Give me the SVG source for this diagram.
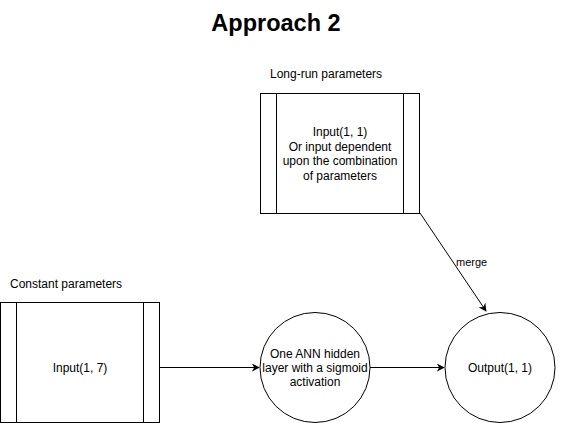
<svg xmlns="http://www.w3.org/2000/svg" width="565" height="423" viewBox="0 0 565 423">
<defs>
<style>
text{font-family:"Liberation Sans",Arial,sans-serif;font-size:12px;fill:#000}
.c{text-anchor:middle}
.box{fill:#fff;stroke:#000;stroke-width:1}
.edge{fill:none;stroke:#000;stroke-width:1}
</style>
<marker id="arr" viewBox="0 0 10 10" refX="9" refY="5" markerWidth="8" markerHeight="8" markerUnits="userSpaceOnUse" orient="auto">
<path d="M0,0 L10,5 L0,10 L3,5 Z" fill="#000"/>
</marker>
</defs>
<rect width="565" height="423" fill="#fff"/>
<text x="276" y="31" class="c" style="font-size:23.5px;font-weight:bold">Approach 2</text>
<text x="270" y="78">Long-run parameters</text>
<text x="10" y="288">Constant parameters</text>
<g id="connectors">
<line class="edge" x1="160" y1="367.5" x2="259" y2="367.5" marker-end="url(#arr)"/>
<line class="edge" x1="370" y1="367.5" x2="444" y2="367.5" marker-end="url(#arr)"/>
<line class="edge" x1="420" y1="213" x2="486" y2="311" marker-end="url(#arr)"/>
<text x="456" y="266" style="font-size:11px">merge</text>
</g>
<g id="longrun">
<rect class="box" x="260.5" y="93.5" width="159" height="120"/>
<line class="edge" x1="276.5" y1="93.5" x2="276.5" y2="213.5"/>
<line class="edge" x1="403.5" y1="93.5" x2="403.5" y2="213.5"/>
<text class="c" x="340" y="136">Input(1, 1)</text>
<text class="c" x="340" y="150.5">Or input dependent</text>
<text class="c" x="340" y="165">upon the combination</text>
<text class="c" x="340" y="180">of parameters</text>
</g>
<g id="constant">
<rect class="box" x="0.5" y="302.5" width="159" height="120"/>
<line class="edge" x1="16.5" y1="302.5" x2="16.5" y2="422.5"/>
<line class="edge" x1="143.5" y1="302.5" x2="143.5" y2="422.5"/>
<text class="c" x="80" y="372">Input(1, 7)</text>
</g>
<g id="hidden">
<circle class="box" cx="315" cy="367.5" r="55"/>
<text class="c" x="315" y="358">One ANN hidden</text>
<text class="c" x="315" y="372">layer with a sigmoid</text>
<text class="c" x="315" y="386">activation</text>
</g>
<g id="output">
<circle class="box" cx="500" cy="367.5" r="55"/>
<text class="c" x="500" y="372">Output(1, 1)</text>
</g>
</svg>
